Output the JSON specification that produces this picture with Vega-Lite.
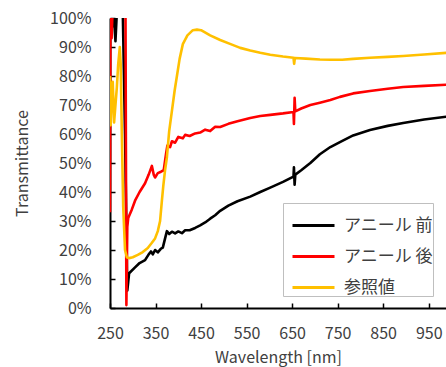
{
  "$schema": "https://vega.github.io/schema/vega-lite/v6.json",
  "width": 336,
  "height": 290,
  "autosize": "none",
  "padding": {"left": 110, "top": 18, "right": 0, "bottom": 59},
  "background": "white",
  "config": {
    "view": {"stroke": null},
    "font": "Noto Sans CJK JP",
    "axis": {"labelFont": "Noto Sans CJK JP", "titleFont": "Noto Sans CJK JP", "labelColor": "#404040", "titleColor": "#404040", "labelFontSize": 16, "titleFontSize": 16, "titleFontWeight": "normal", "grid": false, "domainColor": "black", "domainWidth": 2, "tickColor": "black", "tickWidth": 1.5, "tickSize": -5, "labelOverlap": false, "labelFlush": false, "labelBound": false}
  },
  "datasets": {
    "spec": [
      {"s": "アニール 前", "w": 250, "t": 93},
      {"s": "アニール 前", "w": 252, "t": 102},
      {"s": "アニール 前", "w": 255, "t": 97},
      {"s": "アニール 前", "w": 258, "t": 102},
      {"s": "アニール 前", "w": 262, "t": 92},
      {"s": "アニール 前", "w": 265, "t": 102},
      {"s": "アニール 前", "w": 270, "t": 103},
      {"s": "アニール 前", "w": 278, "t": 103},
      {"s": "アニール 前", "w": 283, "t": 60},
      {"s": "アニール 前", "w": 288, "t": 6},
      {"s": "アニール 前", "w": 290, "t": 9},
      {"s": "アニール 前", "w": 292, "t": 12},
      {"s": "アニール 前", "w": 305, "t": 14},
      {"s": "アニール 前", "w": 315, "t": 15.5},
      {"s": "アニール 前", "w": 327, "t": 16.5},
      {"s": "アニール 前", "w": 335, "t": 18.5},
      {"s": "アニール 前", "w": 340, "t": 19.5},
      {"s": "アニール 前", "w": 344, "t": 18.5},
      {"s": "アニール 前", "w": 349, "t": 20},
      {"s": "アニール 前", "w": 355, "t": 19.2},
      {"s": "アニール 前", "w": 362, "t": 20.5},
      {"s": "アニール 前", "w": 366, "t": 20.8},
      {"s": "アニール 前", "w": 371, "t": 24},
      {"s": "アニール 前", "w": 375, "t": 26.5},
      {"s": "アニール 前", "w": 380, "t": 25.5},
      {"s": "アニール 前", "w": 386, "t": 26.3},
      {"s": "アニール 前", "w": 393, "t": 25.7},
      {"s": "アニール 前", "w": 400, "t": 26.4},
      {"s": "アニール 前", "w": 408, "t": 25.8},
      {"s": "アニール 前", "w": 415, "t": 26.8},
      {"s": "アニール 前", "w": 425, "t": 26.8},
      {"s": "アニール 前", "w": 437, "t": 27.6},
      {"s": "アニール 前", "w": 448, "t": 28.5},
      {"s": "アニール 前", "w": 459, "t": 29.5},
      {"s": "アニール 前", "w": 470, "t": 30.8},
      {"s": "アニール 前", "w": 481, "t": 32},
      {"s": "アニール 前", "w": 492, "t": 33.5},
      {"s": "アニール 前", "w": 510, "t": 35.3},
      {"s": "アニール 前", "w": 530, "t": 36.8},
      {"s": "アニール 前", "w": 558, "t": 38.4},
      {"s": "アニール 前", "w": 580, "t": 40},
      {"s": "アニール 前", "w": 602, "t": 41.5},
      {"s": "アニール 前", "w": 630, "t": 43.5},
      {"s": "アニール 前", "w": 653, "t": 45.3},
      {"s": "アニール 前", "w": 654, "t": 48.5},
      {"s": "アニール 前", "w": 655.5, "t": 42.5},
      {"s": "アニール 前", "w": 657, "t": 46},
      {"s": "アニール 前", "w": 670, "t": 47.5},
      {"s": "アニール 前", "w": 690, "t": 50},
      {"s": "アニール 前", "w": 711, "t": 53},
      {"s": "アニール 前", "w": 734, "t": 55.5},
      {"s": "アニール 前", "w": 755, "t": 57.2},
      {"s": "アニール 前", "w": 784, "t": 59.5},
      {"s": "アニール 前", "w": 821, "t": 61.4},
      {"s": "アニール 前", "w": 860, "t": 62.8},
      {"s": "アニール 前", "w": 894, "t": 63.8},
      {"s": "アニール 前", "w": 940, "t": 65},
      {"s": "アニール 前", "w": 990, "t": 66},

      {"s": "アニール 後", "w": 250, "t": 33},
      {"s": "アニール 後", "w": 251, "t": 102},
      {"s": "アニール 後", "w": 253.5, "t": 93},
      {"s": "アニール 後", "w": 256, "t": 104},
      {"s": "アニール 後", "w": 270, "t": 106},
      {"s": "アニール 後", "w": 284, "t": 104},
      {"s": "アニール 後", "w": 286, "t": 1},
      {"s": "アニール 後", "w": 288, "t": 28},
      {"s": "アニール 後", "w": 290, "t": 31},
      {"s": "アニール 後", "w": 298, "t": 34},
      {"s": "アニール 後", "w": 305, "t": 37},
      {"s": "アニール 後", "w": 315, "t": 40},
      {"s": "アニール 後", "w": 327, "t": 43},
      {"s": "アニール 後", "w": 335, "t": 46},
      {"s": "アニール 後", "w": 342, "t": 49},
      {"s": "アニール 後", "w": 346, "t": 46},
      {"s": "アニール 後", "w": 349, "t": 45},
      {"s": "アニール 後", "w": 355, "t": 46.5},
      {"s": "アニール 後", "w": 362, "t": 47},
      {"s": "アニール 後", "w": 368, "t": 47.5},
      {"s": "アニール 後", "w": 373, "t": 53},
      {"s": "アニール 後", "w": 376, "t": 56},
      {"s": "アニール 後", "w": 382, "t": 55.5},
      {"s": "アニール 後", "w": 386, "t": 57.5},
      {"s": "アニール 後", "w": 393, "t": 57},
      {"s": "アニール 後", "w": 400, "t": 59},
      {"s": "アニール 後", "w": 410, "t": 58.5},
      {"s": "アニール 後", "w": 415, "t": 59.7},
      {"s": "アニール 後", "w": 425, "t": 59.3},
      {"s": "アニール 後", "w": 437, "t": 60.2},
      {"s": "アニール 後", "w": 448, "t": 60.5},
      {"s": "アニール 後", "w": 459, "t": 61.5},
      {"s": "アニール 後", "w": 470, "t": 61},
      {"s": "アニール 後", "w": 481, "t": 62.5},
      {"s": "アニール 後", "w": 492, "t": 62.4},
      {"s": "アニール 後", "w": 510, "t": 63.5},
      {"s": "アニール 後", "w": 530, "t": 64.4},
      {"s": "アニール 後", "w": 558, "t": 65.5},
      {"s": "アニール 後", "w": 580, "t": 66.2},
      {"s": "アニール 後", "w": 602, "t": 66.6},
      {"s": "アニール 後", "w": 630, "t": 67.1},
      {"s": "アニール 後", "w": 653, "t": 67.6},
      {"s": "アニール 後", "w": 654, "t": 63.5},
      {"s": "アニール 後", "w": 655.5, "t": 72.5},
      {"s": "アニール 後", "w": 657, "t": 67.8},
      {"s": "アニール 後", "w": 670, "t": 68.8},
      {"s": "アニール 後", "w": 690, "t": 70},
      {"s": "アニール 後", "w": 711, "t": 70.8},
      {"s": "アニール 後", "w": 734, "t": 71.7},
      {"s": "アニール 後", "w": 755, "t": 72.8},
      {"s": "アニール 後", "w": 784, "t": 74},
      {"s": "アニール 後", "w": 821, "t": 74.8},
      {"s": "アニール 後", "w": 860, "t": 75.6},
      {"s": "アニール 後", "w": 894, "t": 76.2},
      {"s": "アニール 後", "w": 940, "t": 76.6},
      {"s": "アニール 後", "w": 990, "t": 77},

      {"s": "参照値", "w": 250, "t": 80},
      {"s": "参照値", "w": 251.5, "t": 63},
      {"s": "参照値", "w": 253.5, "t": 72},
      {"s": "参照値", "w": 256, "t": 78},
      {"s": "参照値", "w": 259, "t": 64},
      {"s": "参照値", "w": 262, "t": 70},
      {"s": "参照値", "w": 265, "t": 76},
      {"s": "参照値", "w": 268, "t": 84},
      {"s": "参照値", "w": 271.5, "t": 90},
      {"s": "参照値", "w": 273.5, "t": 84},
      {"s": "参照値", "w": 276, "t": 60},
      {"s": "参照値", "w": 279, "t": 35},
      {"s": "参照値", "w": 283, "t": 20},
      {"s": "参照値", "w": 287, "t": 17.5},
      {"s": "参照値", "w": 292, "t": 17.2},
      {"s": "参照値", "w": 300, "t": 17.5},
      {"s": "参照値", "w": 311, "t": 18.3},
      {"s": "参照値", "w": 322, "t": 19.3},
      {"s": "参照値", "w": 333, "t": 20.7},
      {"s": "参照値", "w": 342, "t": 22.5},
      {"s": "参照値", "w": 349, "t": 24},
      {"s": "参照値", "w": 355, "t": 26.5},
      {"s": "参照値", "w": 360, "t": 30},
      {"s": "参照値", "w": 364, "t": 37},
      {"s": "参照値", "w": 367, "t": 42},
      {"s": "参照値", "w": 371, "t": 47.6},
      {"s": "参照値", "w": 375, "t": 52},
      {"s": "参照値", "w": 380, "t": 61},
      {"s": "参照値", "w": 386, "t": 68},
      {"s": "参照値", "w": 392, "t": 75},
      {"s": "参照値", "w": 397, "t": 80},
      {"s": "参照値", "w": 403, "t": 86},
      {"s": "参照値", "w": 410, "t": 91},
      {"s": "参照値", "w": 420, "t": 94},
      {"s": "参照値", "w": 432, "t": 95.8},
      {"s": "参照値", "w": 441, "t": 96},
      {"s": "参照値", "w": 450, "t": 95.8},
      {"s": "参照値", "w": 470, "t": 94},
      {"s": "参照値", "w": 492, "t": 92.4},
      {"s": "参照値", "w": 515, "t": 91},
      {"s": "参照値", "w": 536, "t": 89.7},
      {"s": "参照値", "w": 558, "t": 88.8},
      {"s": "参照値", "w": 580, "t": 88},
      {"s": "参照値", "w": 602, "t": 87.3},
      {"s": "参照値", "w": 630, "t": 86.7},
      {"s": "参照値", "w": 653, "t": 86.3},
      {"s": "参照値", "w": 654.5, "t": 84.2},
      {"s": "参照値", "w": 656, "t": 86.2},
      {"s": "参照値", "w": 680, "t": 86},
      {"s": "参照値", "w": 711, "t": 85.7},
      {"s": "参照値", "w": 734, "t": 85.6},
      {"s": "参照値", "w": 760, "t": 85.6},
      {"s": "参照値", "w": 784, "t": 85.9},
      {"s": "参照値", "w": 821, "t": 86.3},
      {"s": "参照値", "w": 860, "t": 86.6},
      {"s": "参照値", "w": 894, "t": 86.9},
      {"s": "参照値", "w": 940, "t": 87.4},
      {"s": "参照値", "w": 990, "t": 88}
    ]
  },
  "layer": [
    {
      "mark": {"type": "rule", "color": "black", "strokeWidth": 2},
      "encoding": {"y": {"datum": 100, "type": "quantitative", "scale": {"domain": [0, 100], "nice": false},
              "axis": {"values": [0, 10, 20, 30, 40, 50, 60, 70, 80, 90, 100], "labelExpr": "datum.value + '%'", "title": "Transmittance", "labelPadding": 24, "titlePadding": 19, "labelOverlap": false}}}
    },
    {
      "data": {"name": "spec"},
      "mark": {"type": "line", "strokeWidth": 2.6, "clip": true, "strokeJoin": "round"},
      "encoding": {
        "x": {"field": "w", "type": "quantitative", "scale": {"domain": [250, 988], "nice": false, "zero": false},
              "axis": {"values": [250, 350, 450, 550, 650, 750, 850, 950], "title": "Wavelength [nm]", "labelPadding": 22, "titlePadding": 8, "labelOverlap": false}},
        "y": {"field": "t", "type": "quantitative", "scale": {"domain": [0, 100], "nice": false},
              "axis": {"values": [0, 10, 20, 30, 40, 50, 60, 70, 80, 90, 100], "labelExpr": "datum.value + '%'", "title": "Transmittance", "labelPadding": 24, "titlePadding": 19, "labelOverlap": false}},
        "color": {"field": "s", "type": "nominal", "sort": ["アニール 前", "アニール 後", "参照値"],
                  "scale": {"domain": ["アニール 前", "アニール 後", "参照値"], "range": ["#000000", "#FF0000", "#FFC000"]},
                  "legend": {"title": null, "orient": "none", "legendX": 173, "legendY": 185, "direction": "vertical",
                             "strokeColor": "#BFBFBF", "fillColor": "white", "padding": 0,
                             "symbolType": "stroke", "symbolSize": 1764, "symbolStrokeWidth": 3, "symbolOffset": 8,
                             "labelFont": "Noto Sans CJK JP", "labelFontSize": 17, "labelColor": "#404040", "labelOffset": 8, "rowPadding": -6}}
      }
    }
  ]
}
